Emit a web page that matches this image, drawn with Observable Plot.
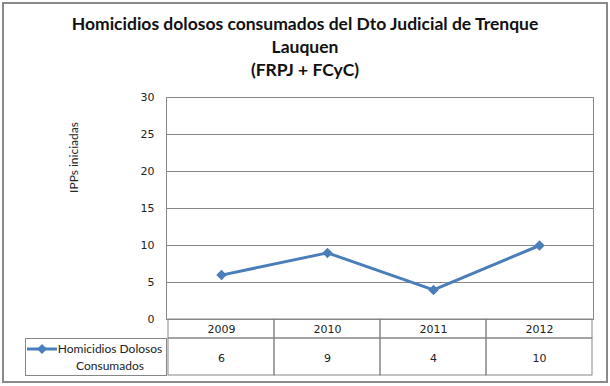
<!DOCTYPE html>
<html>
<head>
<meta charset="utf-8">
<script src="https://cdn.jsdelivr.net/npm/d3@7"></script>
<script src="https://cdn.jsdelivr.net/npm/@observablehq/plot@0.6"></script>
<style>
  html, body { margin: 0; padding: 0; background: #fff; }
  #wrap { position: relative; width: 610px; height: 386px; overflow: hidden; font-family: Lato, "Open Sans", sans-serif; }
  #border { position: absolute; left: 2px; top: 2px; width: 606px; height: 381px; box-sizing: border-box; border: 2px solid #8a8a8a; pointer-events: none; }
  #title { position: absolute; left: 0; top: 12px; width: 610px; text-align: center; font-weight: bold; font-size: 17.5px; line-height: 23px; color: #111; }
  #chart { position: absolute; left: 0; top: 85px; }
</style>
</head>
<body>
<div id="wrap">
  <div id="title"></div>
  <div id="chart"></div>
  <div id="border"></div>
</div>
<script>
const titleLines = ["Homicidios dolosos consumados del Dto Judicial de Trenque", "Lauquen", "(FRPJ + FCyC)"];
const years = ["2009", "2010", "2011", "2012"];
const values = [6, 9, 4, 10];
const yTicks = [0, 5, 10, 15, 20, 25, 30];
const seriesLines = ["Homicidios Dolosos", "Consumados"];
const yLabel = "IPPs iniciadas";

const data = years.map((year, i) => ({year, value: values[i]}));

const titleEl = document.getElementById("title");
titleLines.forEach(t => { const d = document.createElement("div"); d.textContent = t; titleEl.appendChild(d); });

const W = 610, H = 301, mT = 12, mB = 67, mL = 166, mR = 17;
const unitPx = (H - mT - mB) / 30;
const row1 = 19 / unitPx, row2 = 37 / unitPx;
const grid = "#868686";
const blue = "#4A7EBB";
const numFont = "'DejaVu Sans', Verdana, sans-serif";
const txtFont = "Lato, 'Open Sans', sans-serif";

const chart = Plot.plot({
  width: W, height: H,
  marginTop: mT, marginBottom: mB, marginLeft: mL, marginRight: mR,
  style: {fontFamily: numFont, fontSize: "11px", color: "#222", background: "transparent", overflow: "visible"},
  x: {type: "band", domain: years, padding: 0, axis: null},
  y: {domain: [0, 30]},
  marks: [
    Plot.ruleY(yTicks, {stroke: grid, strokeOpacity: 1}),
    Plot.barY(data, {x: "year", y1: 0, y2: -row1, fill: "none", stroke: grid}),
    Plot.barY(data, {x: "year", y1: -row1, y2: -row1 - row2, fill: "none", stroke: grid}),
    Plot.frame({stroke: grid}),
    Plot.axisY({ticks: yTicks, tickSize: 0, tickPadding: 12, label: null, fontSize: 11, fill: "#222"}),
    Plot.text([yLabel], {frameAnchor: "top-left", dx: -92, dy: 60, rotate: -90, textAnchor: "middle", lineAnchor: "middle",
      text: d => d, fontSize: 12, fontFamily: txtFont, fill: "#222"}),
    Plot.line(data, {x: "year", y: "value", stroke: blue, strokeWidth: 3}),
    Plot.dot(data, {x: "year", y: "value", symbol: "square", rotate: 45, r: 4.2, fill: blue, stroke: "none"}),
    Plot.text(data, {x: "year", y: 0, dy: 10, text: "year", fontSize: 11, fill: "#222"}),
    Plot.text(data, {x: "year", y: 0, dy: 39, text: d => String(d.value), fontSize: 11, fill: "#222"})
  ]
});
document.getElementById("chart").appendChild(chart);

// legend cell of the data table (lives in the left margin)
const xs = chart.scale("x"), ys = chart.scale("y");
const x0 = xs.range[0];
const yTop = ys.apply(-row1), yBot = ys.apply(-row1 - row2);
const svg = d3.select(chart);
const g = svg.append("g").attr("font-family", txtFont).attr("font-size", 12);
g.append("rect").attr("x", 25.5).attr("y", yTop + 0.5).attr("width", x0 - 25).attr("height", yBot - yTop)
  .attr("fill", "none").attr("stroke", grid);
const ky = yTop + 11;
g.append("line").attr("x1", 27).attr("x2", 57).attr("y1", ky).attr("y2", ky).attr("stroke", blue).attr("stroke-width", 3);
g.append("path").attr("d", d3.symbol(d3.symbolSquare, 50)()).attr("transform", `translate(42,${ky}) rotate(45)`).attr("fill", blue);
seriesLines.forEach((t, i) => {
  g.append("text").attr("x", 110).attr("y", ky + i * 17).attr("dy", "0.32em").attr("text-anchor", "middle").attr("fill", "#222").text(t);
});
</script>
</body>
</html>
